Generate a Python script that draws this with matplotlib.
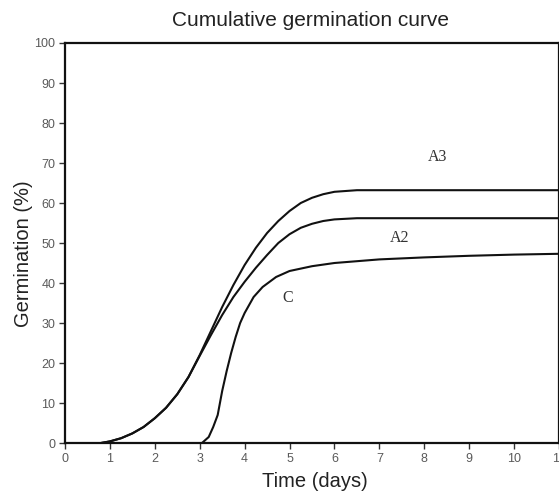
import matplotlib

matplotlib.use("Agg", force=True)
import matplotlib.pyplot as plt

# values
a3_days = [0.8, 1.0, 1.25, 1.5, 1.75, 2.0, 2.25, 2.5, 2.75, 3.0, 3.25, 3.5, 3.75,
           4.0, 4.25, 4.5, 4.75, 5.0, 5.25, 5.5, 5.75, 6.0, 6.5, 11.0]
a3_germ = [0.0, 0.4, 1.2, 2.4, 4.0, 6.2, 8.8, 12.2, 16.5, 22.0, 28.0, 34.0, 39.5,
           44.5, 48.8, 52.5, 55.5, 58.0, 60.0, 61.3, 62.2, 62.8, 63.2, 63.2]

a2_days = [0.8, 1.0, 1.25, 1.5, 1.75, 2.0, 2.25, 2.5, 2.75, 3.0, 3.25, 3.5, 3.75,
           4.0, 4.25, 4.5, 4.75, 5.0, 5.25, 5.5, 5.75, 6.0, 6.5, 11.0]
a2_germ = [0.0, 0.4, 1.2, 2.4, 4.0, 6.2, 8.8, 12.2, 16.5, 21.8, 27.0, 32.0, 36.5,
           40.3, 43.8, 47.0, 50.0, 52.2, 53.8, 54.8, 55.5, 55.9, 56.2, 56.2]

c_days = [3.05, 3.2, 3.3, 3.4, 3.5, 3.6, 3.7, 3.8, 3.9, 4.0, 4.2, 4.4, 4.7,
          5.0, 5.5, 6.0, 7.0, 8.0, 9.0, 10.0, 11.0]
c_germ = [0.0, 1.5, 4.0, 7.0, 13.0, 18.0, 22.5, 26.5, 30.0, 32.5, 36.5, 39.0, 41.5,
          43.0, 44.2, 45.0, 45.9, 46.4, 46.8, 47.1, 47.3]

curve_labels = ["A3", "A2", "C"]
label_pos = [(8.3, 71.5), (7.45, 51.2), (4.95, 36.3)]

x_ticks = list(range(0, 12))
y_ticks = list(range(0, 101, 10))

fig = plt.figure(figsize=(5.59, 4.94), dpi=100)
ax = fig.add_axes([65 / 559, 51 / 494, 494 / 559, 400 / 494])

for xs, ys in [(a3_days, a3_germ), (a2_days, a2_germ), (c_days, c_germ)]:
    ax.plot(xs, ys, color="#111111", lw=1.5, solid_capstyle="round")

for name, (lx, ly) in zip(curve_labels, label_pos):
    ax.text(lx, ly, name, family="Liberation Serif", fontsize=11.5, color="#333333",
            ha="center", va="center")

ax.set_xlim(0, 11)
ax.set_ylim(0, 100)
ax.set_xticks(x_ticks)
ax.set_yticks(y_ticks)
ax.tick_params(direction="out", length=4, width=1, color="#333333",
               labelsize=9, labelcolor="#5a5a5a", pad=3)
for lab in ax.get_xticklabels() + ax.get_yticklabels():
    lab.set_family("Liberation Sans")
for side in ["left", "right", "top", "bottom"]:
    ax.spines[side].set_linewidth(1.6)
    ax.spines[side].set_color("#111111")

ax.set_xlabel("Time (days)", family="Liberation Sans", fontsize=14.5, color="#222222")
ax.xaxis.set_label_coords((315 - 65) / 494, -(481 - 443) / 400)
ax.xaxis.label.set_va("center")
ax.set_ylabel("Germination (%)", family="Liberation Sans", fontsize=14.5, color="#222222")
ax.yaxis.set_label_coords(-(65 - 24) / 494, (443 - 254) / 400)
ax.yaxis.label.set_va("center")
fig.text(311 / 559, 1 - 21 / 494, "Cumulative germination curve", family="Liberation Sans",
         fontsize=15, color="#222222", ha="center", va="center")

fig.savefig("out.png", dpi=100)
